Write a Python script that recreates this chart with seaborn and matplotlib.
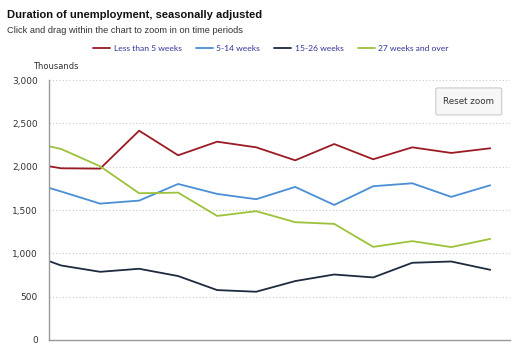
import pandas as pd
import numpy as np
import matplotlib.pyplot as plt
import seaborn as sns
from matplotlib.patches import FancyBboxPatch

# Values in thousands; the chart is zoomed, so the first period is partly off the left edge
periods = list(range(-1, 12))
less_5 = [2057, 1982, 1978, 2416, 2132, 2289, 2224, 2074, 2262, 2086, 2224, 2159, 2213]
wk_5_14 = [1847, 1714, 1574, 1609, 1801, 1686, 1625, 1767, 1559, 1775, 1809, 1652, 1786]
wk_15_26 = [1022, 860, 787, 822, 738, 576, 557, 680, 756, 722, 891, 906, 810]
wk_27_over = [2306, 2205, 2005, 1694, 1701, 1432, 1487, 1360, 1340, 1075, 1141, 1072, 1167]

series_names = ['Less than 5 weeks', '5-14 weeks', '15-26 weeks', '27 weeks and over']
colors = ['#9b1b24', '#4a8fd6', '#1e2a40', '#9cc23a']
y_ticks = [0, 500, 1000, 1500, 2000, 2500, 3000]

df = pd.DataFrame({
    'period': periods * 4,
    'value': less_5 + wk_5_14 + wk_15_26 + wk_27_over,
    'series': np.repeat(series_names, len(periods)),
})

sns.set_style('white')
plt.rcParams['font.family'] = ['DejaVu Sans']

fig = plt.figure(figsize=(5.27, 3.56), dpi=100)
ax = fig.add_axes([0.093, 0.045, 0.875, 0.730])

sns.lineplot(data=df, x='period', y='value', hue='series', hue_order=series_names,
             palette=colors, linewidth=1.3, ax=ax, legend=False)

ax.set_xlim(-0.31, 11.51)
ax.set_ylim(0, 3000)
ax.set_yticks(y_ticks)
ax.set_yticklabels([f'{v:,}' for v in y_ticks], fontsize=6.5, color='#333333')
ax.set_xticks([])
ax.set_xlabel('')
ax.set_ylabel('')
ax.tick_params(axis='y', length=0, pad=8)
for v in y_ticks[1:]:
    ax.axhline(v, color='#c8c8c8', linewidth=0.8, linestyle=(0, (1, 2)), zorder=0)
for side in ['top', 'right']:
    ax.spines[side].set_visible(False)
for side in ['left', 'bottom']:
    ax.spines[side].set_color('#999999')
    ax.spines[side].set_linewidth(1.0)

# titles
fig.text(0.013, 0.958, 'Duration of unemployment, seasonally adjusted', va='center',
         fontsize=8, fontweight='bold', family='Liberation Sans', color='#111111')
fig.text(0.013, 0.914, 'Click and drag within the chart to zoom in on time periods', va='center',
         fontsize=6.7, family='Liberation Sans', color='#333333')
fig.text(0.063, 0.814, 'Thousands', fontsize=6, va='center', color='#333333')

# legend
handles = [plt.Line2D([], [], color=c, linewidth=1.3) for c in colors]
fig.legend(handles, series_names, loc='center', bbox_to_anchor=(0.514, 0.865), ncol=4,
           frameon=False, prop={'family': 'Lato', 'size': 6.1}, labelcolor='#333399',
           handlelength=2.0, handletextpad=0.4, columnspacing=1.7)

# reset zoom button
fig.patches.append(FancyBboxPatch((0.827, 0.677), 0.125, 0.076, transform=fig.transFigure,
                                  boxstyle='round,pad=0,rounding_size=0.004',
                                  fc='#f7f7f7', ec='#cccccc', lw=0.8))
fig.text(0.8895, 0.715, 'Reset zoom', ha='center', va='center', fontsize=6.3, color='#333333')

fig.savefig('out.png', dpi=100)
